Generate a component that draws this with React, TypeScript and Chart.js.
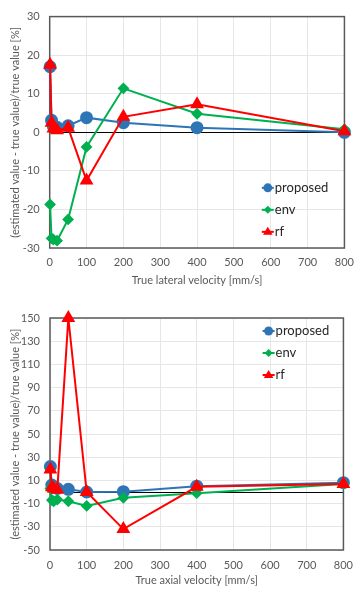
import React, { useEffect, useRef } from "react";
import { Chart, registerables } from "chart.js";

Chart.register(...registerables);

// ---- data ----
const velocities = [1, 5, 10, 20, 50, 100, 200, 400, 800];
const seriesNames = ["proposed", "env", "rf"];

const lateralProposed = [17, 3.1, 1.5, 1.3, 1.7, 3.8, 2.5, 1.2, 0];
const lateralEnv = [-18.7, -27.5, -27.8, -28.1, -22.6, -3.8, 11.4, 4.8, 0.8];
const lateralRf = [17.5, 2.5, 1.0, 0.5, 1.2, -12.5, 4.0, 7.3, 0.3];

const axialProposed = [22, 6, 4, 3, 2.3, 0, 0.3, 5, 8];
const axialEnv = [3, -7, -8, -6.5, -8, -12, -5, -1, 7];
const axialRf = [19.5, 4, 3, 2, 150, 0, -32, 4.5, 7];

const xTitleLateral = "True lateral velocity [mm/s]";
const xTitleAxial = "True axial velocity [mm/s]";
const yTitle = "(estimated value - true value)/true value [%]";

const colors = ["#2E75B6", "#00B050", "#FF0000"];
const styles = ["circle", "rectRot", "triangle"];
const radii = [5.5, 4.5, 6];

const FONT = "Lato";

function drawMarker(ctx: CanvasRenderingContext2D, style: string, x: number, y: number, r: number) {
  ctx.beginPath();
  if (style === "circle") {
    ctx.arc(x, y, r, 0, Math.PI * 2);
  } else if (style === "rectRot") {
    ctx.moveTo(x, y - r);
    ctx.lineTo(x + r, y);
    ctx.lineTo(x, y + r);
    ctx.lineTo(x - r, y);
    ctx.closePath();
  } else {
    ctx.moveTo(x, y - r);
    ctx.lineTo(x + r * 0.95, y + r * 0.6);
    ctx.lineTo(x - r * 0.95, y + r * 0.6);
    ctx.closePath();
  }
  ctx.fill();
}

function makePlugin(legendFx: number, legendFy: number) {
  return {
    id: "frameLegend",
    beforeDatasetsDraw(chart: any) {
      const { ctx, chartArea: a, scales } = chart;
      const y0 = Math.round(scales.y.getPixelForValue(0)) + 0.5;
      ctx.save();
      ctx.strokeStyle = "#000";
      ctx.lineWidth = 1;
      ctx.beginPath();
      ctx.moveTo(a.left, y0);
      ctx.lineTo(a.right, y0);
      ctx.stroke();
      ctx.strokeStyle = "#595959";
      ctx.lineWidth = 1.5;
      ctx.strokeRect(a.left, a.top, a.right - a.left, a.bottom - a.top);
      ctx.restore();
    },
    afterDraw(chart: any) {
      const { ctx, chartArea: a } = chart;
      const w = a.right - a.left;
      const h = a.bottom - a.top;
      const x = a.left + legendFx * w;
      ctx.save();
      seriesNames.forEach((name, i) => {
        const y = a.top + legendFy * h + i * 22;
        ctx.strokeStyle = colors[i];
        ctx.fillStyle = colors[i];
        ctx.lineWidth = 2;
        ctx.beginPath();
        ctx.moveTo(x - 6, y);
        ctx.lineTo(x + 6, y);
        ctx.stroke();
        drawMarker(ctx, styles[i], x, y, i === 0 ? 4.5 : i === 1 ? 4 : 5);
        ctx.fillStyle = "#262626";
        ctx.font = `13px ${FONT}`;
        ctx.textBaseline = "middle";
        ctx.textAlign = "left";
        ctx.fillText(name, x + 7, y);
      });
      ctx.restore();
    },
  };
}

function buildConfig(
  series: number[][],
  yMin: number,
  yMax: number,
  yStep: number,
  xTitle: string,
  layout: { top: number; right: number; yWidth: number; xHeight: number; xPad: number; xTitlePad: number },
  legendFx: number,
  legendFy: number
) {
  const datasets = series.map((vals, i) => ({
    label: seriesNames[i],
    data: velocities.map((v, j) => ({ x: v, y: vals[j] })),
    borderColor: colors[i],
    backgroundColor: colors[i],
    pointBackgroundColor: colors[i],
    pointBorderColor: colors[i],
    pointStyle: styles[i],
    pointRadius: radii[i],
    borderWidth: 2,
    tension: 0,
    clip: false as any,
    order: 3 - i,
  }));
  return {
    type: "line" as const,
    data: { datasets },
    options: {
      animation: false as const,
      responsive: false,
      maintainAspectRatio: false,
      layout: { padding: { top: layout.top, right: layout.right, left: 0, bottom: 0 } },
      plugins: { legend: { display: false }, tooltip: { enabled: false } },
      scales: {
        x: {
          type: "linear" as const,
          min: 0,
          max: 800,
          ticks: { stepSize: 100, color: "#595959", font: { family: FONT, size: 11 }, padding: layout.xPad, maxRotation: 0 },
          grid: { color: "#E6E6E6", drawTicks: false, lineWidth: 1 },
          border: { display: false },
          title: {
            display: true,
            text: xTitle,
            color: "#595959",
            font: { family: FONT, size: 11 },
            padding: { top: 0, bottom: layout.xTitlePad },
          },
          afterFit(scale: any) {
            scale.height = layout.xHeight;
          },
        },
        y: {
          type: "linear" as const,
          min: yMin,
          max: yMax,
          ticks: { stepSize: yStep, color: "#595959", font: { family: FONT, size: 11 }, padding: 10 },
          grid: { color: "#E6E6E6", drawTicks: false, lineWidth: 1 },
          border: { display: false },
          title: {
            display: true,
            text: yTitle,
            color: "#595959",
            font: { family: FONT, size: 11 },
            padding: { top: 9, bottom: 0 },
          },
          afterFit(scale: any) {
            scale.width = layout.yWidth;
          },
        },
      },
    },
    plugins: [makePlugin(legendFx, legendFy)],
  };
}

function ChartCanvas({ config, width, height, top }: any) {
  const ref = useRef<HTMLCanvasElement | null>(null);
  useEffect(() => {
    if (!ref.current) return;
    const chart = new Chart(ref.current, config);
    return () => chart.destroy();
  }, []);
  return (
    <div style={{ position: "absolute", left: 0, top, width, height }}>
      <canvas ref={ref} width={width} height={height} style={{ width, height, display: "block" }} />
    </div>
  );
}

export default function App() {
  const cfg1 = buildConfig(
    [lateralProposed, lateralEnv, lateralRf],
    -30,
    30,
    10,
    xTitleLateral,
    { top: 15, right: 362 - 347.7, yWidth: 49.7, xHeight: 295 - 248, xPad: 8, xTitlePad: 8.4 },
    0.74,
    0.74
  );
  const cfg2 = buildConfig(
    [axialProposed, axialEnv, axialRf],
    -50,
    150,
    20,
    xTitleAxial,
    { top: 18, right: 362 - 346.7, yWidth: 50, xHeight: 290 - 250, xPad: 9, xTitlePad: 3.4 },
    0.745,
    0.056
  );
  return (
    <div style={{ position: "absolute", left: 0, top: 0, width: 355, height: 590, overflow: "hidden", background: "#fff" }}>
      <ChartCanvas config={cfg1} width={362} height={295} top={0} />
      <ChartCanvas config={cfg2} width={362} height={290} top={300} />
    </div>
  );
}
